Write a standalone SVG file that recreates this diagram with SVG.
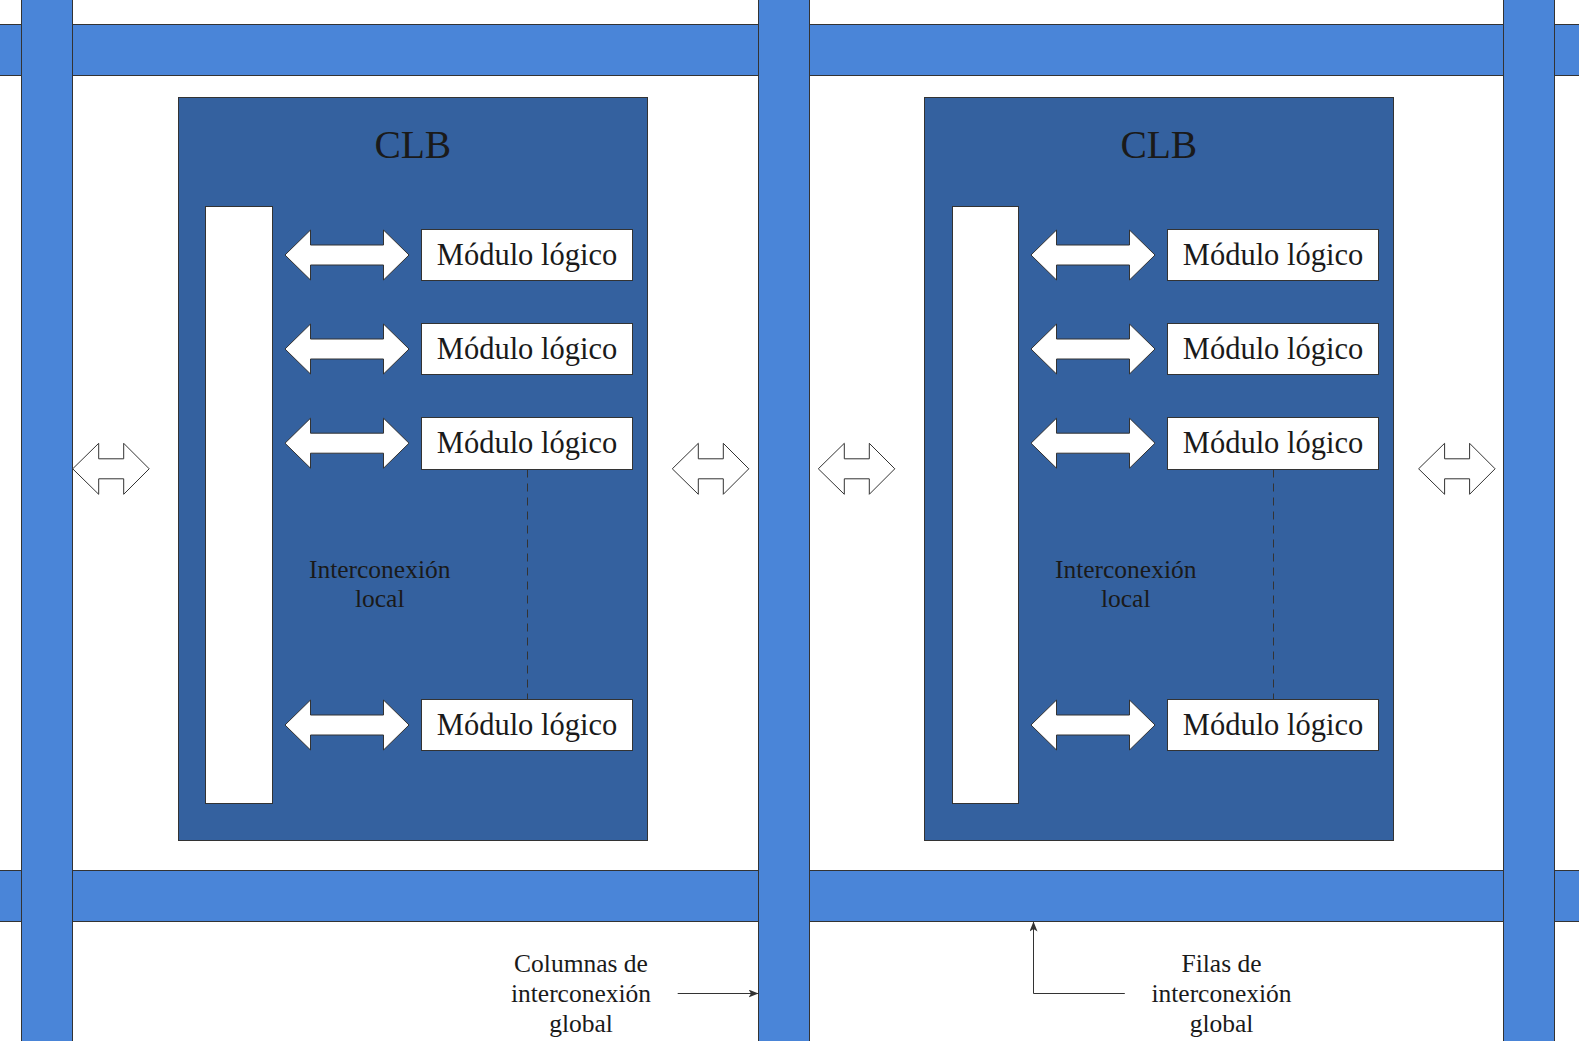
<svg xmlns="http://www.w3.org/2000/svg" width="1579" height="1041" viewBox="0 0 1579 1041">
<style>
.bus{fill:#4A85D8;stroke:#333333;stroke-width:1}
.clb{fill:#34619F;stroke:#333333;stroke-width:1}
.wht{fill:#FFFFFF;stroke:#333333;stroke-width:1}
.t{font-family:"Liberation Serif","Times New Roman",serif;fill:#1A1A1A;text-anchor:middle}
.title{font-size:39.5px}
.mod{font-size:30.5px}
.lbl{font-size:25.5px}
.dash{stroke:#333333;stroke-width:1;stroke-dasharray:8 6;fill:none}
.conn{stroke:#333333;stroke-width:1;fill:none}
</style>
<defs>
<path id="inArrow" d="M0 0 L25.5 -25 L25.5 -10 L98.5 -10 L98.5 -25 L124 0 L98.5 25 L98.5 10 L25.5 10 L25.5 25 Z" fill="#FFFFFF" stroke="#333333" stroke-width="1"/>
<path id="sideArrow" d="M0 0 L26 -25.5 L26 -10 L51 -10 L51 -25.5 L76.5 0 L51 25.5 L51 10 L26 10 L26 25.5 Z" fill="#FFFFFF" stroke="#333333" stroke-width="1"/>
<marker id="arr" viewBox="0 0 10 8" refX="10" refY="4" markerWidth="10" markerHeight="8" markerUnits="userSpaceOnUse" orient="auto">
<path d="M0 0 L10 4 L0 8 L2.5 4 Z" fill="#333333"/>
</marker>
</defs>

<g id="buses">
<rect id="row-top" class="bus" x="-2" y="24.5" width="1583" height="51"/>
<rect id="row-bottom" class="bus" x="-2" y="870.5" width="1583" height="51"/>
<rect id="col-1" class="bus" x="21.5" y="-2" width="51" height="1045"/>
<rect id="col-2" class="bus" x="758.5" y="-2" width="51" height="1045"/>
<rect id="col-3" class="bus" x="1503.5" y="-2" width="51" height="1045"/>
</g>

<g id="clb1">
<rect class="clb" x="178.5" y="97.5" width="469" height="743"/>
<text class="t title" x="412.8" y="158">CLB</text>
<rect id="clb1-local" class="wht" x="205.5" y="206.5" width="67" height="597"/>
<text class="t lbl" x="379.7" y="577.5">Interconexión</text>
<text class="t lbl" x="379.7" y="607">local</text>
<g id="clb1-mod1"><rect class="wht" x="421.5" y="229.5" width="211" height="51"/><text class="t mod" x="527" y="264.5">Módulo lógico</text></g>
<g id="clb1-mod2"><rect class="wht" x="421.5" y="323.5" width="211" height="51"/><text class="t mod" x="527" y="358.5">Módulo lógico</text></g>
<g id="clb1-mod3"><rect class="wht" x="421.5" y="417.5" width="211" height="52"/><text class="t mod" x="527" y="453.2">Módulo lógico</text></g>
<g id="clb1-mod4"><rect class="wht" x="421.5" y="699.5" width="211" height="51"/><text class="t mod" x="527" y="735.2">Módulo lógico</text></g>
</g>

<g id="clb2">
<rect class="clb" x="924.5" y="97.5" width="469" height="743"/>
<text class="t title" x="1158.8" y="158">CLB</text>
<rect id="clb2-local" class="wht" x="952.5" y="206.5" width="66" height="597"/>
<text class="t lbl" x="1125.7" y="577.5">Interconexión</text>
<text class="t lbl" x="1125.7" y="607">local</text>
<g id="clb2-mod1"><rect class="wht" x="1167.5" y="229.5" width="211" height="51"/><text class="t mod" x="1273" y="264.5">Módulo lógico</text></g>
<g id="clb2-mod2"><rect class="wht" x="1167.5" y="323.5" width="211" height="51"/><text class="t mod" x="1273" y="358.5">Módulo lógico</text></g>
<g id="clb2-mod3"><rect class="wht" x="1167.5" y="417.5" width="211" height="52"/><text class="t mod" x="1273" y="453.2">Módulo lógico</text></g>
<g id="clb2-mod4"><rect class="wht" x="1167.5" y="699.5" width="211" height="51"/><text class="t mod" x="1273" y="735.2">Módulo lógico</text></g>
</g>

<g id="label-columnas">
<text class="t lbl" x="581" y="971.9">Columnas de</text>
<text class="t lbl" x="581" y="1001.9">interconexión</text>
<text class="t lbl" x="581" y="1031.9">global</text>
</g>
<g id="label-filas">
<text class="t lbl" x="1221.5" y="971.9">Filas de</text>
<text class="t lbl" x="1221.5" y="1001.9">interconexión</text>
<text class="t lbl" x="1221.5" y="1031.9">global</text>
</g>

<g id="connectors">
<use href="#inArrow" transform="translate(285,255)"/>
<use href="#inArrow" transform="translate(285,349)"/>
<use href="#inArrow" transform="translate(285,443.2)"/>
<use href="#inArrow" transform="translate(285,725)"/>
<use href="#inArrow" transform="translate(1031,255)"/>
<use href="#inArrow" transform="translate(1031,349)"/>
<use href="#inArrow" transform="translate(1031,443.2)"/>
<use href="#inArrow" transform="translate(1031,725)"/>
<use href="#sideArrow" transform="translate(72.7,468.8)"/>
<use href="#sideArrow" transform="translate(672.3,468.8)"/>
<use href="#sideArrow" transform="translate(818.3,468.8)"/>
<use href="#sideArrow" transform="translate(1418.6,468.8)"/>
<path class="dash" d="M527.5 469.5 V699.5"/>
<path class="dash" d="M1273.5 469.5 V699.5"/>
<path class="conn" d="M677.7 993.5 H758.5" marker-end="url(#arr)"/>
<path class="conn" d="M1124.8 993.5 H1033.5 V921.5" marker-end="url(#arr)"/>
</g>
</svg>
